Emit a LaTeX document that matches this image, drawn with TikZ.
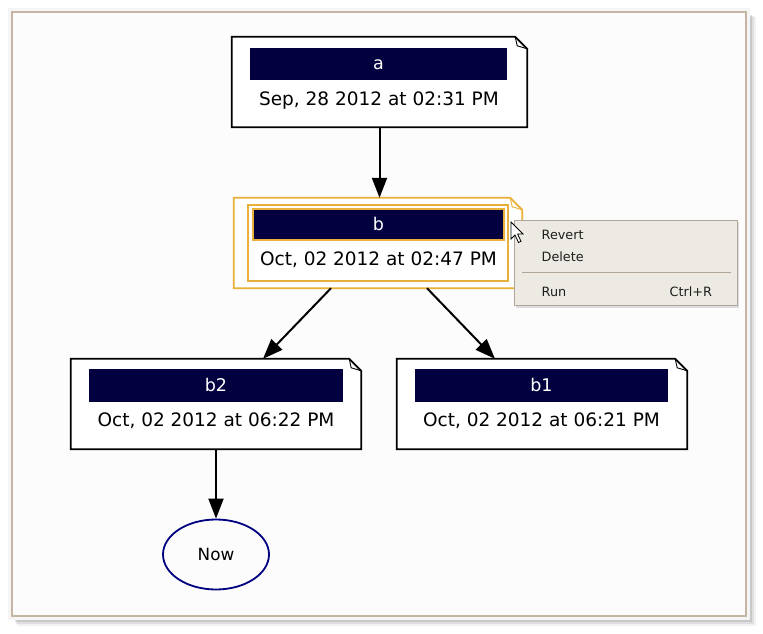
\documentclass[tikz,border=0pt]{standalone}
\usepackage{fontspec}
\setmainfont{DejaVu Sans}
\usetikzlibrary{arrows.meta, positioning, shapes.geometric}
\definecolor{headblue}{RGB}{2,0,62}
\definecolor{selorange}{RGB}{232,176,56}
\definecolor{menugray}{RGB}{237,234,228}
\definecolor{menuedge}{RGB}{176,165,152}
\definecolor{framebrown}{RGB}{196,182,162}
\definecolor{nowblue}{RGB}{0,0,128}
\definecolor{menutext}{RGB}{30,30,30}

% outline of a note card with a folded corner
\newcommand{\notecard}[2]{%
  \draw[#2, line width=1.8pt, fill=white] (#1.south west) -- (#1.north west) -- ([xshift=-12pt]#1.north east)
    -- ([yshift=-12pt]#1.north east) -- (#1.south east) -- cycle;
  \draw[#2, line width=0.9pt] ([xshift=-12pt]#1.north east) -- ([xshift=-10pt,yshift=-9pt]#1.north east)
    -- ([yshift=-12pt]#1.north east);
}

\begin{document}
\begin{tikzpicture}[
    x=1pt, y=-1pt,
    card/.style={rectangle, draw=none, inner sep=0pt, minimum height=90pt},
    head/.style={rectangle, fill=headblue, text=white, inner sep=0pt, minimum height=32pt,
                 text height=12pt, text depth=0pt, font=\fontsize{17.5}{20}\selectfont},
    stamp/.style={inner sep=0pt, text height=13.5pt, text depth=0pt, font=\fontsize{18.5}{22}\selectfont},
    item/.style={anchor=west, inner sep=0pt, text=menutext, text height=9.3pt, text depth=0pt,
                 font=\fontsize{12.8}{15}\selectfont},
    arrow/.style={-{Triangle[length=20pt, width=15pt]}, line width=2pt, black}
]
\useasboundingbox (0,0) rectangle (763,634);
\fill[white] (0,0) rectangle (763,634);

% window frame
\foreach \s/\o in {10/0.05, 8/0.08, 6/0.1, 4/0.12, 2/0.15}
  \fill[black, opacity=\o] (12+\s/2,12+\s/2) rectangle (746+\s,616+\s);
\fill[black!4] (8,8) rectangle (750,620);
\draw[framebrown, line width=1.5pt, fill=white!99!black] (12,12) rectangle (746,616);

% nodes
\node[card, minimum width=295pt] (a) at (379.5,82) {};
\node[card, minimum width=288pt] (b) at (378,243) {};
\node[card, minimum width=290pt] (b2) at (216,404) {};
\node[card, minimum width=290pt] (b1) at (542,404) {};

\notecard{a}{black}
\notecard{b}{selorange}
\notecard{b2}{black}
\notecard{b1}{black}

\node[rectangle, draw=selorange, line width=1.8pt, minimum width=260pt, minimum height=76pt] (bsel) at (378,243) {};

\node[head, minimum width=257pt] (ahead) at (378.5,64) {a};
\node[stamp] (adate) at (379,99) {Sep, 28 2012 at 02:31 PM};

\node[head, draw=selorange, line width=1.5pt, minimum width=251pt, minimum height=31pt] (bhead) at (378.5,224.5) {b};
\node[stamp] (bdate) at (378.5,259) {Oct, 02 2012 at 02:47 PM};

\node[head, minimum width=254pt, minimum height=33pt] (b2head) at (216,385.5) {b2};
\node[stamp] (b2date) at (216,420) {Oct, 02 2012 at 06:22 PM};

\node[head, minimum width=253pt, minimum height=33pt] (b1head) at (541.5,385.5) {b1};
\node[stamp] (b1date) at (541.5,420) {Oct, 02 2012 at 06:21 PM};

\node[ellipse, draw=nowblue, line width=1.8pt, inner sep=0pt, minimum width=106pt, minimum height=70pt,
      font=\fontsize{16.8}{20}\selectfont] (now) at (216,554.5) {Now};

\draw[arrow] (a.south) -- (a.south |- b.north);
\draw[arrow] ([xshift=-47pt]b.south) -- ([xshift=47pt]b2.north);
\draw[arrow] ([xshift=49pt]b.south) -- ([xshift=-47pt]b1.north);
\draw[arrow] (b2.south) -- (now.north);

% context menu
\fill[black, opacity=0.12] (516,222) rectangle (739,308);
\node[rectangle, fill=menugray, draw=menuedge, line width=1pt, minimum width=223pt, minimum height=85pt] (menu) at (625.7,263.2) {};
\node[item] (revert) at (541.5,234.5) {Revert};
\node[item] (delete) at (541.5,256.7) {Delete};
\draw[menuedge, line width=1pt] ([xshift=8.7pt,yshift=-9.5pt]menu.west) -- ([xshift=-7pt,yshift=-9.5pt]menu.east);
\node[item] (run) at (541.5,291.7) {Run};
\node[item] (ctrl) at (669.5,291.7) {Ctrl+R};

% mouse pointer
\draw[black, fill=white, line width=0.8pt, line join=miter]
  (511,222) -- (511,239) -- (515,235) -- (518.5,242.5) -- (521,241.3) -- (517.6,234) -- (523,234) -- cycle;
\end{tikzpicture}
\end{document}
